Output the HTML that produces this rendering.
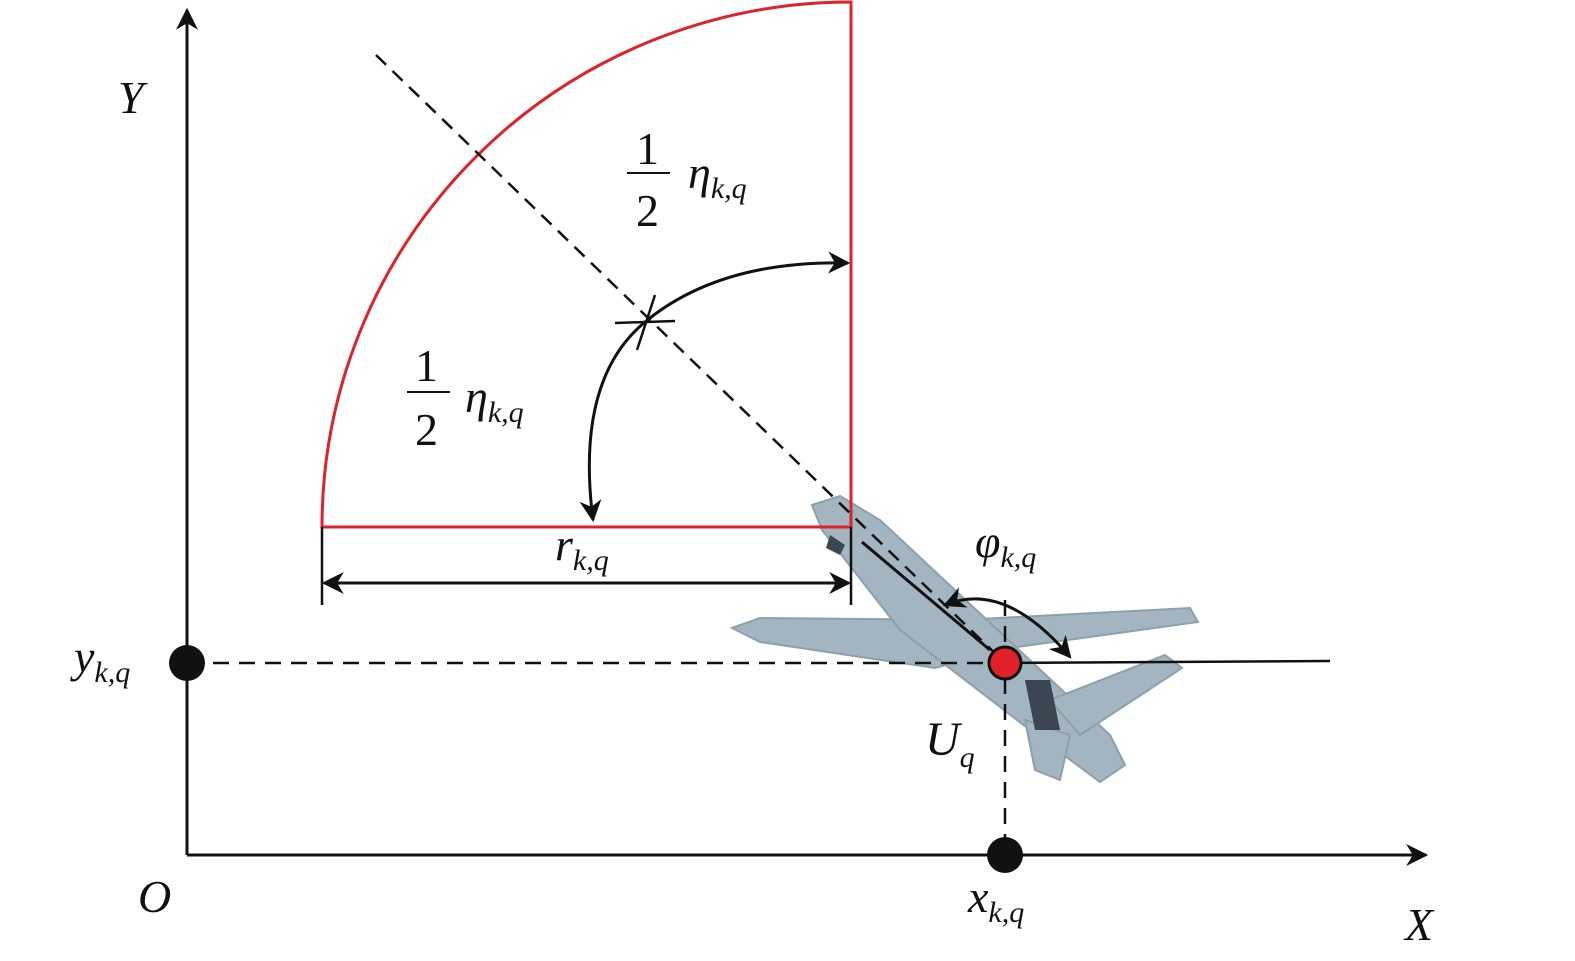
<!DOCTYPE html>
<html><head><style>body{margin:0;background:#fff}svg{display:block}</style></head><body>
<svg width="1575" height="961" viewBox="0 0 1575 961" xmlns="http://www.w3.org/2000/svg" font-family="Liberation Serif, serif">
<defs><marker id="b" viewBox="0 0 10 10" refX="9" refY="5" markerWidth="28" markerHeight="22" markerUnits="userSpaceOnUse" orient="auto-start-reverse"><path d="M0,0 L10,5 L0,10 L3,5z" fill="#111"/></marker></defs>
<!-- drone -->
<g fill="#a3b5c1" stroke="#8ea0ac" stroke-width="2">
<polygon points="732,628 760,618 960,620 1190,608 1198,622 1010,648 935,668 760,642"/>
<polygon points="812,505 840,496 880,520 1110,735 1125,765 1100,782 1030,730 900,630 822,530"/>
<polygon points="1050,700 1165,655 1182,668 1080,735"/>
<polygon points="1025,720 1070,735 1060,780 1035,770"/>
</g>
<g fill="#3c4650"><polygon points="1025,680 1050,680 1060,730 1035,730"/><polygon points="830,535 845,545 840,555 826,548"/></g>
<!-- axes -->
<line x1="187" y1="855" x2="187" y2="10" stroke="#111" stroke-width="3" marker-end="url(#b)"/>
<line x1="187" y1="855" x2="1426" y2="855" stroke="#111" stroke-width="3" marker-end="url(#b)"/>
<!-- sector -->
<path d="M851,527 L322,527 A529,525 0 0 1 851,2 Z" fill="none" stroke="#e02128" stroke-width="3"/>
<line x1="376" y1="55" x2="1005" y2="663" stroke="#111" stroke-width="2.5" stroke-dasharray="14,9"/>
<line x1="862" y1="542" x2="990" y2="650" stroke="#111" stroke-width="3"/>
<line x1="187" y1="663" x2="1005" y2="663" stroke="#111" stroke-width="2.5" stroke-dasharray="16,10"/>
<line x1="1005" y1="663" x2="1330" y2="661" stroke="#111" stroke-width="2.5"/>
<line x1="1005" y1="600" x2="1005" y2="855" stroke="#111" stroke-width="2.5" stroke-dasharray="16,10"/>
<!-- angle arrow -->
<path d="M593,520 Q575,380 645,322 Q720,260 848,263" fill="none" stroke="#111" stroke-width="3" marker-start="url(#b)" marker-end="url(#b)"/>
<line x1="615" y1="323" x2="675" y2="321" stroke="#111" stroke-width="2.5"/>
<line x1="655" y1="295" x2="637" y2="350" stroke="#111" stroke-width="2.5"/>
<!-- r dimension -->
<line x1="322" y1="527" x2="322" y2="605" stroke="#111" stroke-width="2.5"/>
<line x1="851" y1="527" x2="851" y2="605" stroke="#111" stroke-width="2.5"/>
<line x1="324" y1="583" x2="849" y2="583" stroke="#111" stroke-width="3" marker-start="url(#b)" marker-end="url(#b)"/>
<!-- phi arrow -->
<path d="M945,605 Q1005,580 1070,657" fill="none" stroke="#111" stroke-width="3" marker-start="url(#b)" marker-end="url(#b)"/>
<!-- dots -->
<circle cx="187" cy="663" r="18" fill="#111"/>
<circle cx="1005" cy="855" r="18" fill="#111"/>
<circle cx="1005" cy="663" r="16" fill="#e02128" stroke="#111" stroke-width="3"/>
<!-- labels -->
<g font-style="italic" fill="#111">
<text x="118" y="113" font-size="46">Y</text>
<text x="1405" y="940" font-size="46">X</text>
<text x="138" y="912" font-size="46">O</text>
<text x="74" y="672" font-size="46">y<tspan font-size="30" dy="10">k,q</tspan></text>
<text x="968" y="912" font-size="46">x<tspan font-size="30" dy="10">k,q</tspan></text>
<text x="555" y="560" font-size="46">r<tspan font-size="30" dy="10">k,q</tspan></text>
<text x="975" y="557" font-size="46">φ<tspan font-size="30" dy="10">k,q</tspan></text>
<text x="925" y="755" font-size="48">U<tspan font-size="30" dy="12">q</tspan></text>
<text x="688" y="188" font-size="46">η<tspan font-size="30" dy="10">k,q</tspan></text>
<text x="465" y="412" font-size="46">η<tspan font-size="30" dy="10">k,q</tspan></text>
</g>
<g fill="#111" font-size="46">
<text x="636" y="164">1</text><line x1="627" y1="173" x2="670" y2="173" stroke="#111" stroke-width="2"/><text x="636" y="226">2</text>
<text x="415" y="381">1</text><line x1="407" y1="392" x2="450" y2="392" stroke="#111" stroke-width="2"/><text x="415" y="445">2</text>
</g>
</svg>
</body></html>
